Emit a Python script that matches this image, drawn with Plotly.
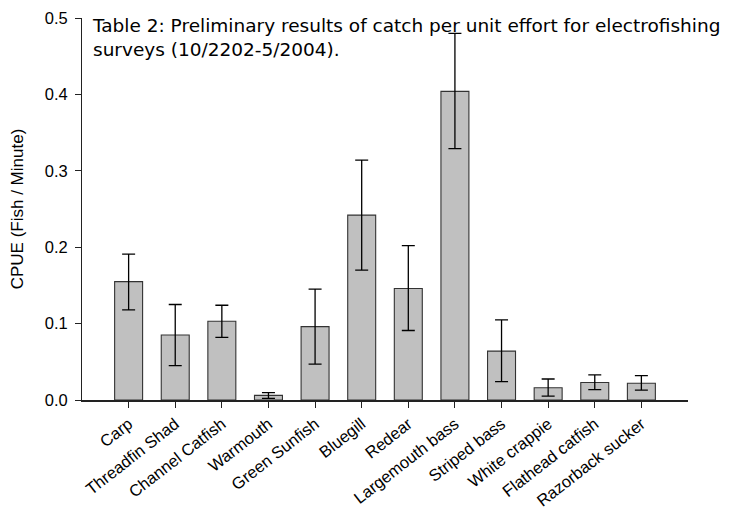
import plotly.graph_objects as go

species = ["Carp", "Threadfin Shad", "Channel Catfish", "Warmouth", "Green Sunfish",
           "Bluegill", "Redear", "Largemouth bass", "Striped bass", "White crappie",
           "Flathead catfish", "Razorback sucker"]
cpue = [0.155, 0.085, 0.103, 0.006, 0.096, 0.242, 0.146, 0.404, 0.064, 0.016, 0.023, 0.022]
upper = [0.191, 0.125, 0.124, 0.0096, 0.145, 0.314, 0.202, 0.480, 0.105, 0.0275, 0.033, 0.032]
lower = [0.118, 0.045, 0.082, 0.002, 0.047, 0.170, 0.091, 0.329, 0.024, 0.005, 0.0135, 0.013]
y_ticks = [0.0, 0.1, 0.2, 0.3, 0.4, 0.5]

err_plus = [u - v for u, v in zip(upper, cpue)]
err_minus = [v - l for v, l in zip(cpue, lower)]
xpos = list(range(len(species)))

fig = go.Figure()
fig.add_trace(go.Bar(
    x=xpos, y=cpue, width=0.6,
    marker=dict(color="#c0c0c0", line=dict(color="#333333", width=1.1)),
    error_y=dict(type="data", symmetric=False, array=err_plus, arrayminus=err_minus,
                 color="black", thickness=1.3, width=6.5),
))

ARIAL = "Liberation Sans, Arial, sans-serif"
fig.update_layout(
    width=732, height=510,
    margin=dict(l=74, r=52, t=10, b=118),
    plot_bgcolor="white", paper_bgcolor="white",
    showlegend=False,
    font=dict(family=ARIAL, size=16, color="black"),
    xaxis=dict(
        range=[-1, 12], tickmode="array", tickvals=xpos, ticktext=species,
        tickangle=-38, ticks="outside", ticklen=6, tickwidth=1, tickcolor="#222",
        showline=True, linecolor="#222", linewidth=2, showgrid=False, zeroline=False,
        tickfont=dict(size=16.5, family=ARIAL), automargin=False,
    ),
    yaxis=dict(
        range=[0, 0.5], tickmode="array", tickvals=y_ticks,
        ticktext=["%.1f" % t for t in y_ticks],
        ticks="outside", ticklen=6, tickwidth=1, tickcolor="#222",
        showline=True, linecolor="#222", linewidth=1, showgrid=False, zeroline=False,
        title=dict(text="CPUE (Fish / Minute)", font=dict(size=17), standoff=16),
        tickfont=dict(size=16.5), ticklabelstandoff=4, automargin=False,
    ),
    annotations=[dict(
        xref="paper", yref="paper", x=(82 - 74) / 606, y=1.0 + 5 / 382,
        xanchor="left", yanchor="top", align="left", showarrow=False,
        text="Table 2: Preliminary results of catch per unit effort for electrofishing<br>surveys (10/2202-5/2004).",
        font=dict(family="DejaVu Sans, Verdana, sans-serif", size=18.5, color="black"),
    )],
)

fig.write_html("out.html")
